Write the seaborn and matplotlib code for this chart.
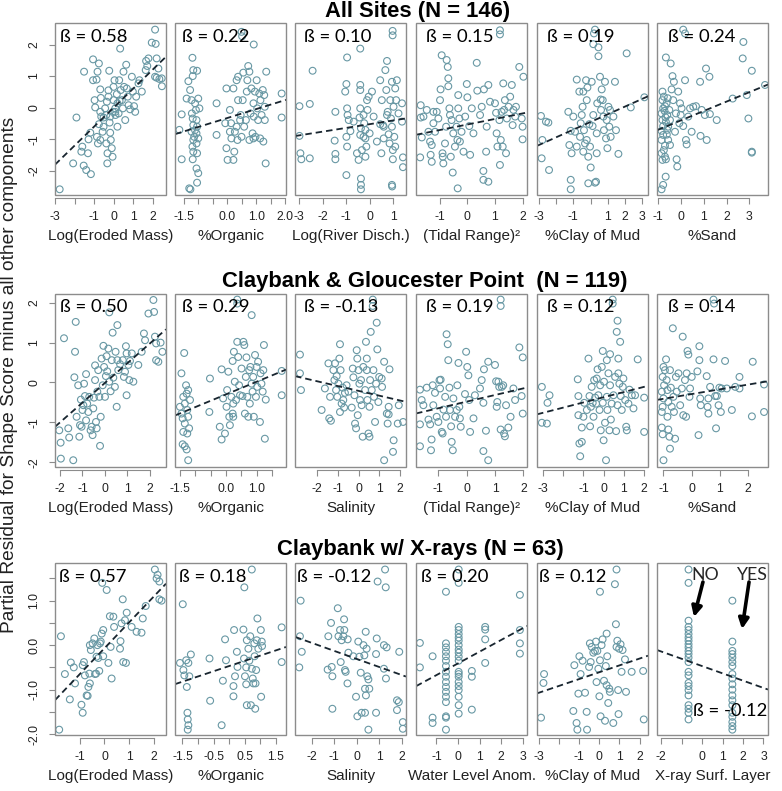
import matplotlib
matplotlib.use("Agg")
import matplotlib.pyplot as plt
from matplotlib.patches import Rectangle
import seaborn as sns

# ---- data (partial residuals) ----
all_mass = [(-2.76,-2.58),(-1.9,-0.31),(-2.07,-1.76),(-1.6,-1.23),(-1.65,-1.39),(-1.51,1.14),(-1.53,-1.83),(-1.4,-1.97),
            (-1.16,-2.1),(-1.31,-1.44),(-1.28,-1.0),(-1.19,-0.79),(-1.05,1.53),(-1.05,0.87),(-0.97,0.24),(-0.94,0.01),
            (-0.87,0.89),(-0.82,1.14),(-0.75,1.4),(-0.85,-0.92),(-0.8,-1.13),(-0.75,-0.52),(-0.68,0.58),(-0.65,0.31),
            (-0.63,-0.28),(-0.68,-0.13),(-0.56,-0.76),(-0.51,-0.6),(-0.43,-0.02),(-0.37,-0.23),(-0.34,0.19),(-0.31,-1.44),
            (-0.32,-1.76),(-0.26,0.55),(-0.26,0.35),(-0.22,1.17),(-0.2,-0.47),(-0.17,-0.79),(-0.14,-1.02),(-0.09,-1.28),
            (-0.05,-1.55),(-0.03,-0.13),(0.0,0.24),(0.0,0.66),(0.05,0.87),(0.09,-0.02),(0.1,-0.23),(0.17,0.43),(0.2,0.14),
            (0.26,-0.18),(0.29,0.87),(0.34,1.87),(0.37,0.56),(0.43,0.24),(0.48,-0.02),(0.51,1.14),(0.54,0.66),(0.6,-0.39),
            (0.65,1.36),(0.68,0.61),(0.73,0.35),(0.77,0.08),(0.85,-0.05),(0.94,0.98),(0.99,0.51),(1.05,0.05),(1.11,-0.13),
            (1.16,0.35),(1.28,0.77),(1.33,0.87),(1.45,0.51),(1.67,1.48),(1.65,1.19),(1.73,1.32),(1.79,1.56),(1.96,2.06),
            (2.13,2.47),(2.16,2.02),(2.21,1.56),(2.21,0.95),(2.3,1.24),(2.35,0.91),(2.47,0.93),(2.48,0.68),(2.13,0.98),
            (0.2,-0.6),(-0.51,-0.31),(-0.17,-0.28),(0.09,-0.13),(0.31,0.21),(-0.68,-1.02),(-0.37,-1.13)]
all_organic = [(-1.57,-0.21),(-1.65,-0.7),(-1.57,-1.63),(-1.4,0.29),(-1.34,0.84),(-1.28,0.56),(-1.2,1.58),(-1.17,1.19),
               (-1.19,1.0),(-1.23,0.24),(-1.22,-0.18),(-1.19,-0.34),(-1.17,-0.55),(-1.23,-0.76),(-1.17,-1.02),(-1.2,-1.23),
               (-1.17,-1.39),(-1.19,-1.63),(-1.31,-2.55),(-1.27,-2.58),(-1.11,0.14),(-1.08,-0.07),(-1.06,-0.39),(-1.04,-0.6),
               (-1.06,-0.81),(-1.06,-1.13),(-1.04,-1.44),(-1.06,-1.92),(-1.0,-2.07),(-1.04,-2.37),(-1.04,1.17),(-1.0,0.29),
               (-0.96,-0.02),(-1.11,-0.71),(-1.14,-0.92),(-1.0,-0.97),(-0.37,0.14),(-0.37,-0.86),(-0.03,0.61),(-0.07,-0.49),
               (-0.03,-1.28),(0.01,-1.65),(0.09,-0.07),(0.13,-0.49),(0.14,-0.97),(0.21,0.61),(0.21,-1.65),(0.24,-1.39),
               (0.26,-0.76),(0.32,0.87),(0.35,-1.02),(0.37,0.24),(0.37,0.98),(0.44,-0.39),(0.46,-0.23),(0.49,-0.92),
               (0.49,2.4),(0.51,2.26),(0.53,0.24),(0.55,1.11),(0.58,-0.6),(0.64,-0.39),(0.67,0.51),(0.69,0.87),(0.72,1.32),
               (0.76,1.14),(0.76,-1.02),(0.8,-0.18),(0.83,0.61),(0.87,-0.81),(0.9,0.14),(0.91,2.0),(0.91,-0.28),(0.95,0.51),
               (0.97,-0.92),(1.01,0.87),(1.03,-0.02),(1.06,-0.39),(1.1,0.45),(1.13,-0.97),(1.14,0.24),(1.18,-0.23),
               (1.22,0.56),(1.24,-1.07),(1.27,0.4),(1.29,-0.39),(1.32,-1.76),(1.34,1.14),(1.29,0.03),(1.87,0.45),
               (1.87,-0.31),(0.9,-0.97),(0.32,-0.6),(0.09,-0.76)]
all_river = [(-2.99,0.05),(-2.99,-0.89),(-2.95,-1.44),(-2.91,-1.63),(-2.55,-1.6),(-2.43,1.17),(-2.55,0.12),(-1.46,-0.13),
             (-1.49,-1.04),(-1.46,-1.46),(-1.46,-1.63),(-1.04,0.51),(-0.99,0.75),(-0.96,1.59),(-0.96,-0.02),(-0.94,-0.23),
             (-0.99,-0.92),(-0.96,-1.23),(-0.99,-2.13),(-0.89,-0.39),(-0.82,-0.74),(-0.54,-1.44),(-0.47,-1.65),(-0.4,1.87),
             (-0.4,0.72),(-0.4,-0.02),(-0.43,-0.31),(-0.4,0.56),(-0.37,-0.65),(-0.4,-0.86),(-0.33,-1.34),(-0.37,-2.24),
             (-0.37,-2.44),(-0.37,-2.58),(-0.26,-0.23),(-0.23,-0.49),(-0.18,-0.7),(-0.18,-0.97),(-0.14,-1.23),(-0.18,-1.55),
             (-0.11,0.24),(-0.09,-0.07),(-0.04,0.35),(0.0,-0.81),(0.1,0.51),(0.17,-0.28),(0.45,0.87),(0.45,-0.52),
             (0.5,-1.44),(0.52,0.24),(0.57,-0.55),(0.6,-0.6),(0.6,-0.97),(0.67,1.19),(0.71,0.56),(0.74,1.48),(0.77,-0.13),
             (0.81,-0.84),(0.85,-1.13),(0.88,0.24),(0.91,-0.34),(0.95,0.82),(0.95,-0.6),(0.98,2.43),(0.98,2.29),
             (0.99,-1.34),(0.99,-1.63),(0.95,-2.44),(0.96,-2.49),(1.02,0.03),(1.05,-0.92),(1.09,0.61),(1.09,-1.23),
             (1.13,0.24),(1.16,0.87),(1.23,-0.18),(1.38,0.14),(1.38,-0.44),(1.42,-1.57),(1.42,-1.88),(0.74,-0.23),
             (0.31,-1.07),(-0.68,-0.44),(-0.26,-0.92)]
all_tidal = [(-1.69,0.08),(-1.69,-0.31),(-1.71,-1.57),(-1.59,-0.28),(-1.65,-0.94),(-1.47,-0.07),(-1.41,-0.76),(-1.35,-1.07),
             (-1.33,-1.49),(-1.29,-1.71),(-1.29,-1.18),(-1.23,-0.13),(-1.23,-0.49),(-1.17,-0.76),(-1.11,-0.13),(-1.05,-0.34),
             (-0.99,0.24),(-0.97,0.58),(-0.93,1.66),(-0.9,-1.44),(-0.89,-1.55),(-0.87,-1.76),(-0.81,-1.13),(-0.77,-0.6),
             (-0.75,1.51),(-0.71,1.29),(-0.69,0.93),(-0.69,0.68),(-0.65,-0.02),(-0.63,-0.23),(-0.6,-1.55),(-0.57,-0.39),
             (-0.53,-2.05),(-0.51,-0.81),(-0.45,-1.23),(-0.39,-0.6),(-0.36,-1.02),(-0.35,-2.55),(-0.33,0.4),(-0.33,-0.02),
             (-0.29,-0.34),(-0.27,-1.07),(-0.21,-0.76),(-0.14,-1.39),(-0.08,-0.28),(-0.02,0.75),(0.0,0.33),(0.07,-0.58),
             (0.1,-1.49),(0.16,-0.02),(0.34,1.42),(0.36,0.54),(0.46,-0.23),(0.52,0.03),(0.58,-2.0),(0.6,0.58),(0.58,-2.28),
             (0.68,-1.39),(0.7,-0.6),(0.76,-2.34),(0.76,0.72),(0.82,0.19),(1.0,0.14),(1.04,-0.16),(1.06,-0.81),(1.09,-1.23),
             (1.16,-0.39),(1.18,2.45),(1.18,2.32),(1.18,-1.81),(1.21,-1.02),(1.24,-0.13),(1.28,-1.23),(1.3,0.77),
             (1.33,-0.07),(1.36,0.24),(1.4,-1.44),(1.43,-0.34),(1.49,0.03),(1.55,0.35),(1.61,0.72),(1.64,-0.55),
             (1.67,-0.07),(1.73,-0.28),(1.76,0.03),(1.88,1.29),(1.97,-0.34),(2.0,-0.6),(2.0,-1.0),(2.03,0.98),(0.22,-0.81)]
all_clay = [(-2.88,-0.26),(-2.84,-1.6),(-2.8,-1.02),(-2.59,-0.44),(-2.45,-0.47),(-2.41,-1.97),(-1.29,-0.13),(-1.23,-1.18),
            (-1.15,-0.73),(-1.1,-1.44),(-1.15,-2.28),(-1.15,-2.58),(-1.0,-0.28),(-0.9,-0.76),(-0.8,0.89),(-0.8,-1.23),
            (-0.65,0.51),(-0.61,-0.92),(-0.57,-0.49),(-0.51,-0.23),(-0.46,0.03),(-0.42,0.51),(-0.38,-0.71),(-0.32,-1.13),
            (-0.26,0.87),(-0.22,0.24),(-0.18,0.64),(-0.13,-1.55),(-0.13,-2.39),(-0.07,-0.52),(-0.03,-1.23),(0.01,-1.89),
            (0.07,0.82),(0.12,-0.58),(0.16,-0.23),(0.2,2.35),(0.26,2.47),(0.16,2.01),(0.26,-2.37),(0.32,-2.34),
            (0.36,-0.81),(0.39,0.14),(0.46,1.91),(0.46,1.63),(0.55,0.98),(0.59,0.26),(0.61,-0.07),(0.65,0.58),(0.71,0.24),
            (0.75,-0.28),(0.78,-0.71),(0.84,0.82),(0.9,-0.97),(0.94,-0.39),(0.98,-1.28),(1.04,0.03),(1.09,-0.6),
            (1.13,-0.07),(1.17,-0.92),(1.33,-0.28),(1.42,0.82),(1.48,-0.71),(1.62,-1.46),(2.1,1.72),(2.34,0.01),
            (3.13,0.33),(-0.22,-1.02),(-0.42,-1.39),(0.36,-1.44)]
all_sand = [(-0.85,-2.58),(-0.78,-2.44),(-0.67,-2.18),(-0.81,-1.65),(-0.7,-1.55),(-0.66,-1.63),(-0.85,-1.44),(-0.75,-1.34),
            (-0.85,-1.02),(-0.78,-0.86),(-0.85,-0.73),(-0.78,-0.58),(-0.81,-0.39),(-0.85,-0.18),(-0.78,-0.02),(-0.81,0.24),
            (-0.75,0.35),(-0.81,0.51),(-0.66,1.59),(-0.63,0.14),(-0.6,-0.23),(-0.56,-0.6),(-0.56,-1.02),(-0.51,-0.07),
            (-0.48,-0.39),(-0.45,1.4),(-0.41,0.58),(-0.37,1.0),(-0.34,0.24),(-0.31,0.82),(-0.26,-0.76),(-0.22,-0.18),
            (-0.19,-1.63),(-0.16,-1.86),(-0.12,0.51),(-0.07,-0.49),(-0.04,0.14),(-0.01,-0.23),(0.03,-0.02),(0.1,2.47),
            (0.18,2.35),(0.1,-0.58),(0.18,0.87),(0.22,-1.02),(0.25,-1.16),(0.32,-0.28),(0.4,-0.02),(0.47,-0.76),
            (0.54,0.03),(0.66,0.05),(0.84,0.82),(0.86,-0.89),(1.05,-0.23),(1.1,1.24),(1.13,-1.02),(1.25,0.98),
            (1.27,-0.2),(1.57,-0.39),(2.27,0.29),(2.71,1.56),(2.74,2.08),(2.89,0.4),(2.96,-0.34),(3.11,1.17),
            (3.11,-1.39),(3.11,-1.42),(3.69,0.72),(0.91,-0.07),(-0.48,-1.18),(-0.72,-0.1),(-0.7,0.05),(-0.66,-0.45),
            (-0.62,-0.85),(-0.7,-1.2),(-0.58,0.3),(-0.68,-0.3),(-0.6,-0.7)]

cgp_mass = [(-2.03,-1.2),(-1.97,-1.51),(-1.96,-1.91),(-1.82,1.11),(-1.63,-1.15),(-1.59,-1.38),(-1.41,-1.95),(-1.36,0.13),
            (-1.33,0.77),(-1.3,1.52),(-1.26,-0.86),(-1.19,-0.07),(-1.14,-1.36),(-1.11,-1.07),(-1.07,-0.43),(-1.04,-1.11),
            (-1.0,-0.69),(-0.96,-0.57),(-0.93,-0.03),(-0.89,-0.34),(-0.84,0.21),(-0.84,-0.95),(-0.79,-0.53),(-0.74,-0.74),
            (-0.7,-0.36),(-0.64,-1.2),(-0.59,-1.11),(-0.55,-1.32),(-0.52,-0.65),(-0.49,-0.38),(-0.44,0.06),(-0.44,0.43),
            (-0.4,-0.99),(-0.37,-1.15),(-0.34,-0.23),(-0.3,0.31),(-0.25,-0.36),(-0.22,-1.59),(-0.19,-0.86),(-0.15,0.6),
            (-0.1,-0.07),(-0.07,0.92),(-0.04,0.39),(0.0,-0.36),(0.04,0.16),(0.07,0.66),(0.1,0.28),(0.15,0.85),(0.19,1.76),
            (0.19,0.02),(0.25,-0.22),(0.3,0.56),(0.34,1.25),(0.37,0.12),(0.44,-0.11),(0.47,0.77),(0.52,-0.61),(0.55,1.44),
            (0.55,0.56),(0.59,0.31),(0.67,0.46),(0.79,0.56),(0.84,0.14),(0.89,0.27),(0.93,0.91),(0.96,-0.32),(0.96,0.73),
            (1.04,0.44),(1.08,0.06),(1.11,0.54),(1.19,0.73),(1.26,0.02),(1.48,0.44),(1.63,0.77),(1.73,1.23),(1.78,1.06),
            (1.93,1.73),(2.15,2.07),(2.18,1.77),(2.22,1.15),(2.27,0.98),(2.27,0.56),(2.37,0.52),(2.47,1.0),(2.55,0.77)]
cgp_organic = [(-1.45,0.23),(-1.36,0.74),(-1.5,-0.61),(-1.45,-0.78),(-1.41,-0.9),(-1.39,-0.36),(-1.34,-1.03),(-1.34,-0.53),
               (-1.39,-1.24),(-1.41,-1.55),(-1.34,-1.6),(-1.28,-1.68),(-1.23,-1.95),(-1.3,-0.07),(-1.28,-0.28),(-1.26,-0.69),
               (-1.23,-0.19),(-1.23,-0.86),(-1.2,-1.15),(-1.17,-0.44),(-1.26,-1.28),(-0.52,0.1),(-0.54,-0.74),(-0.2,-1.11),
               (-0.14,0.33),(-0.14,-1.43),(-0.09,-0.4),(-0.03,-1.28),(0.02,-0.61),(0.04,-0.19),(0.08,0.27),(0.11,-0.86),
               (0.13,-1.07),(0.18,-0.36),(0.22,0.54),(0.22,-0.78),(0.24,-0.53),(0.24,-0.86),(0.26,0.77),(0.29,0.02),
               (0.33,-0.44),(0.37,1.02),(0.37,2.08),(0.37,1.98),(0.4,0.64),(0.43,-0.07),(0.46,-0.32),(0.51,0.35),
               (0.54,-0.34),(0.57,1.02),(0.6,0.94),(0.62,-0.78),(0.65,0.14),(0.67,0.63),(0.7,-0.36),(0.73,-0.86),(0.76,0.31),
               (0.78,-0.53),(0.8,0.39),(0.84,1.69),(0.84,-0.03),(0.87,-0.23),(0.89,0.14),(0.91,-0.86),(0.95,0.69),
               (0.98,-0.36),(1.0,0.39),(1.02,-0.11),(1.05,0.52),(1.11,-0.99),(1.13,0.23),(1.16,-0.03),(1.2,-0.23),
               (1.22,0.31),(1.24,0.94),(1.27,-1.41),(1.3,-0.43),(1.82,0.29),(1.82,-0.32)]
cgp_salinity = [(-2.84,0.7),(-2.84,0.23),(-2.79,-0.19),(-1.79,-0.69),(-1.63,-0.15),(-1.46,0.48),(-1.42,-0.9),(-1.38,-0.36),
                (-1.34,-0.96),(-1.22,0.31),(-1.17,0.06),(-1.14,0.48),(-1.09,-0.19),(-1.06,0.16),(-1.03,-0.36),(-0.98,-0.03),
                (-0.93,0.6),(-0.9,0.96),(-0.9,-0.74),(-0.87,0.31),(-0.82,-0.53),(-0.77,-0.13),(-0.74,-0.44),(-0.7,-0.63),
                (-0.66,-0.26),(-0.58,-0.07),(-0.49,-0.23),(-0.33,-0.63),(-0.28,0.35),(-0.25,0.13),(-0.2,-0.32),(-0.17,-1.03),
                (-0.12,-1.15),(-0.09,0.81),(-0.06,0.6),(-0.04,-0.82),(0.0,0.31),(0.04,-0.03),(0.07,-0.44),(0.12,0.06),
                (0.15,-0.57),(0.2,-1.36),(0.23,0.39),(0.32,-0.19),(0.36,1.02),(0.4,0.6),(0.4,0.31),(0.43,-0.44),(0.48,-1.28),
                (0.53,-1.36),(0.53,-0.61),(0.56,0.06),(0.59,1.27),(0.64,-0.19),(0.69,2.08),(0.69,1.92),(0.72,0.31),
                (0.75,-0.36),(0.8,-0.99),(0.85,-0.03),(0.88,1.5),(0.91,0.83),(0.96,-0.49),(1.0,0.14),(1.24,0.52),(1.5,0.33),
                (1.12,0.1),(1.46,-0.61),(1.46,-0.8),(1.41,-1.03),(1.9,-1.03),(2.16,-0.99),(1.95,-0.57),(1.7,-1.45),
                (1.67,-1.74),(1.24,-1.95),(1.14,-0.11),(1.37,-0.78)]
cgp_tidal = [(-1.65,-0.18),(-1.65,-1.05),(-1.65,-1.6),(-1.59,-0.44),(-1.53,-0.57),(-1.41,-0.13),(-1.35,-0.93),(-1.29,-1.05),
             (-1.26,-1.7),(-1.24,-1.43),(-1.2,-0.07),(-1.18,-0.57),(-1.12,-0.26),(-1.06,-0.86),(-1.0,-0.99),(-0.96,0.06),
             (-0.94,-0.15),(-0.92,0.07),(-0.88,-1.24),(-0.85,-1.28),(-0.82,-0.68),(-0.76,-0.36),(-0.73,-0.86),(-0.71,1.21),
             (-0.67,0.96),(-0.65,0.56),(-0.61,-0.13),(-0.59,-0.69),(-0.55,-1.1),(-0.53,-1.49),(-0.49,-1.7),(-0.47,-0.4),
             (-0.41,-0.86),(-0.35,-0.69),(-0.33,-0.07),(-0.29,0.49),(-0.26,-0.61),(-0.24,-0.9),(-0.21,-1.11),(-0.06,-0.29),
             (-0.02,0.77),(0.02,0.39),(0.06,0.18),(0.09,-0.44),(0.12,-1.24),(0.24,-0.9),(0.29,-0.32),(0.47,-0.15),
             (0.53,0.06),(0.59,-0.51),(0.61,0.33),(0.68,-1.21),(0.59,-1.72),(0.76,0.52),(0.76,-1.95),(1.0,0.44),(1.04,0.03),
             (1.06,-0.61),(1.08,-0.49),(1.12,0.02),(1.15,-0.11),(1.2,2.08),(1.2,1.92),(1.2,-1.18),(1.24,-0.11),(1.29,-0.07),
             (1.32,-1.28),(1.35,-1.35),(1.39,-0.57),(1.47,-1.13),(1.55,-0.86),(1.65,-0.15),(1.71,-0.44),(1.86,0.88),
             (1.94,-0.34),(1.98,0.63),(1.98,-0.78)]
cgp_clay = [(-3.06,-0.11),(-3.06,-1.01),(-2.81,-1.03),(-2.78,-0.51),(-2.68,-0.32),(-1.28,0.08),(-1.25,-0.34),(-1.25,-0.82),
            (-1.2,-1.53),(-1.08,-1.49),(-1.16,-1.85),(-1.08,-1.13),(-1.0,-0.86),(-0.96,-0.51),(-0.83,-0.69),(-0.75,0.6),
            (-0.7,-0.34),(-0.67,-1.1),(-0.63,-0.61),(-0.59,-0.11),(-0.54,-0.51),(-0.5,-0.86),(-0.47,0.06),(-0.42,-0.38),
            (-0.37,-0.53),(-0.34,0.1),(-0.3,0.33),(-0.26,-0.32),(-0.2,-0.69),(-0.17,-0.07),(-0.14,-1.2),(-0.09,0.39),
            (-0.04,0.79),(-0.04,-0.51),(0.0,-1.45),(0.02,0.02),(0.07,-1.01),(0.12,-1.95),(0.16,0.56),(0.16,-0.36),
            (0.19,-0.69),(0.24,0.23),(0.29,-1.2),(0.32,0.71),(0.32,-0.07),(0.36,-0.93),(0.4,-0.53),(0.45,2.08),(0.45,1.98),
            (0.49,-0.32),(0.57,0.14),(0.62,-1.22),(0.65,1.27),(0.69,-0.57),(0.69,1.55),(0.73,0.6),(0.73,0.23),(0.78,-0.03),
            (0.82,1.02),(0.85,-0.34),(0.9,-0.69),(0.95,-0.11),(0.98,0.1),(1.07,-0.44),(1.12,-1.11),(1.15,-1.2),
            (1.23,-0.53),(1.28,-0.18),(1.4,-0.32),(1.48,-0.65),(1.56,-0.32),(1.69,0.58),(2.01,-0.38),(2.01,-1.24)]
cgp_sand = [(-1.0,-1.95),(-1.06,-1.13),(-1.03,-1.3),(-1.06,-0.74),(-1.03,-0.61),(-1.0,-0.4),(-1.06,-0.23),(-0.98,-0.07),
            (-1.03,0.14),(-1.0,0.39),(-0.91,0.58),(-0.95,0.31),(-0.89,0.06),(-0.86,-0.19),(-0.83,-0.49),(-0.86,-0.86),
            (-0.83,-1.18),(-0.79,-1.36),(-0.77,-1.66),(-0.77,0.31),(-0.74,-0.13),(-0.71,-0.61),(-0.67,1.36),(-0.65,-0.36),
            (-0.63,-0.74),(-0.59,-1.41),(-0.56,0.14),(-0.53,-0.23),(-0.47,0.23),(-0.41,-0.57),(-0.35,-0.15),(-0.32,1.15),
            (-0.3,-0.82),(-0.24,0.06),(-0.2,-0.86),(-0.18,0.23),(-0.15,0.79),(-0.12,0.7),(-0.08,-0.36),(-0.06,-0.15),
            (0.0,0.14),(0.2,0.28),(0.24,-1.32),(0.27,0.91),(0.27,0.56),(0.3,-0.4),(0.32,-0.57),(0.53,0.16),(0.56,-0.61),
            (0.59,-0.78),(0.59,-0.4),(0.65,-0.11),(0.77,0.58),(0.77,2.08),(0.79,1.98),(0.83,-0.34),(0.86,-1.15),
            (0.89,-0.34),(0.95,-0.57),(0.98,-0.13),(1.03,-0.74),(1.06,-0.15),(1.18,0.54),(1.24,-0.15),(1.42,-0.69),
            (1.54,-0.11),(1.69,0.14),(1.69,-0.15),(2.13,-0.85),(2.16,0.52),(2.56,-0.05),(2.56,-0.74)]

xr_mass = [(-1.83,-1.9),(-1.76,0.2),(-1.6,-0.65),(-1.4,-1.22),(-1.36,-0.39),(-1.24,-0.5),(-1.19,-0.86),(-0.93,-1.34),
           (-0.88,-1.52),(-0.88,-0.45),(-0.83,-0.38),(-0.79,-0.68),(-0.72,-1.13),(-0.68,-1.14),(-0.65,-0.94),(-0.61,-0.64),
           (-0.59,-0.86),(-0.59,0.0),(-0.55,-0.11),(-0.48,0.04),(-0.41,0.15),(-0.38,-0.65),(-0.34,-0.64),(-0.32,-0.26),
           (-0.28,0.0),(-0.25,-0.29),(-0.21,-0.58),(-0.18,0.04),(-0.15,0.08),(-0.11,0.26),(-0.09,1.4),(-0.05,-0.25),
           (-0.05,0.34),(0.09,1.24),(0.16,-0.4),(0.22,0.65),(0.25,-0.04),(0.29,-0.75),(0.36,0.64),(0.39,0.41),
           (0.63,-0.08),(0.65,0.09),(0.69,0.49),(0.74,1.03),(0.76,-0.38),(0.83,0.56),(0.87,-0.4),(0.9,0.73),(1.1,0.41),
           (1.3,0.3),(1.5,0.28),(1.55,0.6),(1.67,0.88),(2.04,1.7),(2.11,1.5),(2.15,1.58),(2.22,1.43),(2.22,1.03),(2.31,1.0)]
xr_organic = [(-1.58,-0.4),(-1.49,0.92),(-1.47,-0.56),(-1.44,-0.68),(-1.38,-0.34),(-1.36,-0.94),(-1.34,-1.52),(-1.33,-1.67),
              (-1.31,-1.8),(-1.33,-1.9),(-1.31,-0.4),(-1.28,-0.7),(-1.23,-0.21),(-0.63,-0.3),(-0.61,-1.25),(-0.24,-1.8),
              (-0.2,-0.8),(-0.13,0.13),(-0.1,-0.34),(0.14,-1.15),(0.14,-0.92),(0.16,0.34),(0.19,-0.7),(0.25,-0.15),
              (0.27,-0.49),(0.46,0.35),(0.48,-0.3),(0.49,1.3),(0.51,-0.7),(0.55,-0.5),(0.55,-0.88),(0.57,-1.35),(0.57,0.11),
              (0.62,-0.08),(0.65,-0.35),(0.68,0.2),(0.7,-1.35),(0.73,1.7),(0.73,-0.53),(0.76,-0.75),(0.78,-0.86),(0.81,0.04),
              (0.82,-0.25),(0.84,-1.43),(0.85,-0.86),(0.87,-0.56),(0.89,0.11),(0.91,0.6),(0.94,-0.08),(1.02,0.34),
              (1.03,-1.16),(1.05,0.08),(1.06,-0.02),(1.69,0.4),(1.69,-0.38)]
xr_salinity = [(-2.49,1.0),(-2.52,0.2),(-2.44,-0.15),(-2.55,-0.5),(-1.29,-0.55),(-1.26,0.2),(-1.14,0.5),(-1.11,-0.49),
               (-1.08,-0.7),(-1.08,-1.43),(-0.84,0.83),(-0.81,0.2),(-0.74,0.34),(-0.71,-0.38),(-0.67,0.11),(-0.59,0.2),
               (-0.56,0.58),(-0.55,0.34),(-0.52,-0.56),(-0.49,-0.6),(-0.41,-0.86),(-0.4,0.13),(-0.37,-0.17),(-0.15,-0.25),
               (-0.03,-1.16),(0.03,-1.6),(0.07,0.08),(0.12,-0.26),(0.18,-0.62),(0.22,-1.52),(0.3,0.0),(0.34,-0.23),
               (0.37,-1.52),(0.37,-0.98),(0.4,0.3),(0.41,-1.13),(0.44,-0.08),(0.47,-0.7),(0.52,-1.9),(0.52,-0.77),
               (0.56,-0.98),(0.86,-1.52),(0.86,-0.2),(0.89,0.15),(0.93,1.43),(1.21,-0.53),(1.21,0.0),(1.26,1.7),(1.29,1.3),
               (1.33,-0.05),(1.3,-0.75),(1.89,-0.15),(1.79,-1.24),(1.87,-1.28),(1.79,-1.46),(2.05,-1.73),(2.05,-1.88)]
xr_water = [(-1.77,0.05),(-1.77,-0.5),(-1.18,-0.25),(-1.18,-1.63),(-1.18,-1.75),(-0.56,1.2),
            (-0.56,0.04),(-0.56,-0.05),(-0.56,-0.15),(-0.56,-0.25),(-0.56,-0.35),(-0.56,-0.47),(-0.56,-0.6),(-0.56,-0.71),
            (-0.56,-0.83),(-0.56,-0.94),(-0.56,-1.05),(-0.56,-1.16),(-0.56,-1.28),(-0.56,-1.6),(-0.56,-1.63),(-0.56,-1.9),
            (0.03,1.7),(0.03,1.4),(0.03,0.41),(0.03,0.34),(0.03,0.25),(0.03,0.17),(0.03,0.1),(0.03,0.0),(0.03,-0.1),
            (0.03,-0.17),(0.03,-0.26),(0.03,-0.35),(0.03,-0.6),(0.03,-0.65),(0.03,-0.71),(0.03,-0.83),(0.03,-0.92),
            (0.03,-1.01),(0.03,-1.16),(0.03,-1.35),(0.03,-1.54),
            (0.64,-0.58),(0.64,-0.71),(0.64,-1.45),(1.26,0.41),(1.26,0.35),(1.26,0.13),(1.26,-0.4),
            (2.87,1.13),(2.87,0.34),(2.87,0.04),(2.87,-0.19)]
xr_clay = [(-2.88,-1.63),(-2.76,-0.85),(-2.73,-0.65),(-1.28,-1.48),(-1.23,-0.45),(-1.12,-1.75),(-1.08,-1.9),(-1.03,-1.09),
           (-0.98,-0.25),(-0.92,-0.65),(-0.82,-0.35),(-0.7,-1.07),(-0.62,-1.5),(-0.6,-1.9),(-0.5,-0.49),(-0.46,0.04),
           (-0.42,-0.38),(-0.37,-0.04),(-0.29,-0.17),(-0.21,-0.13),(-0.16,0.08),(-0.13,-0.83),(-0.09,-0.13),(-0.04,-0.53),
           (0.01,-1.15),(0.04,1.2),(0.04,-0.34),(0.07,-1.6),(0.12,0.0),(0.17,0.13),(0.24,-0.8),(0.29,-1.7),(0.33,-0.47),
           (0.37,0.26),(0.37,-0.9),(0.4,-0.25),(0.45,-1.3),(0.5,-0.98),(0.53,-1.05),(0.7,-1.75),(0.78,1.37),(0.83,0.47),
           (0.86,1.7),(0.86,-0.04),(0.9,0.1),(0.94,-1.01),(0.96,-1.55),(0.99,-0.08),(1.06,0.02),(1.11,-0.6),(1.16,-0.11),
           (1.28,-0.32),(1.33,-1.05),(1.61,-0.6),(2.18,-0.58),(2.21,-1.67)]
xr_xray = [(-0.66,1.7),(-0.66,1.4),(-0.66,0.55),(-0.66,0.41),(-0.66,0.34),(-0.66,0.25),(-0.66,0.17),(-0.66,0.1),
           (-0.66,0.02),(-0.66,-0.05),(-0.66,-0.13),(-0.66,-0.2),(-0.66,-0.28),(-0.66,-0.38),(-0.66,-0.6),(-0.66,-0.68),
           (-0.66,-0.85),(-0.66,-0.92),(-0.66,-1.01),(-0.66,-1.13),(-0.66,-1.35),(-0.66,-1.43),(-0.66,-1.52),(-0.66,-1.67),
           (1.48,1.0),(1.48,0.08),(1.48,-0.13),(1.48,-0.2),(1.48,-0.28),(1.48,-0.38),(1.48,-0.47),(1.48,-0.65),
           (1.48,-0.75),(1.48,-0.88),(1.48,-1.0),(1.48,-1.13),(1.48,-1.24),(1.48,-1.35),(1.48,-1.52),(1.48,-1.61),
           (1.48,-1.73),(1.48,-1.82),(1.48,-1.9)]

row_titles = ["All Sites (N = 146)", "Claybank & Gloucester Point  (N = 119)", "Claybank w/ X-rays (N = 63)"]
row_xlabels = [["Log(Eroded Mass)", "%Organic", "Log(River Disch.)", "(Tidal Range)²", "%Clay of Mud", "%Sand"],
               ["Log(Eroded Mass)", "%Organic", "Salinity", "(Tidal Range)²", "%Clay of Mud", "%Sand"],
               ["Log(Eroded Mass)", "%Organic", "Salinity", "Water Level Anom.", "%Clay of Mud", "X-ray Surf. Layer"]]
row_betas = [["0.58", "0.22", "0.10", "0.15", "0.19", "0.24"],
             ["0.50", "0.29", "-0.13", "0.19", "0.12", "0.14"],
             ["0.57", "0.18", "-0.12", "0.20", "0.12", "-0.12"]]
# dashed component lines (slope, intercept)
row_fits = [[(0.60, 0.00), (0.284, -0.325), (0.118, -0.52), (0.175, -0.53), (0.243, -0.45), (0.297, -0.40)],
            [(0.496, -0.01), (0.318, -0.30), (-0.12, -0.21), (0.166, -0.48), (0.13, -0.37), (0.119, -0.29)],
            [(0.583, -0.07), (0.234, -0.47), (-0.181, -0.31), (0.263, -0.41), (0.154, -0.61), (-0.164, -0.47)]]
row_data = [[all_mass, all_organic, all_river, all_tidal, all_clay, all_sand],
            [cgp_mass, cgp_organic, cgp_salinity, cgp_tidal, cgp_clay, cgp_sand],
            [xr_mass, xr_organic, xr_salinity, xr_water, xr_clay, xr_xray]]

# ---- layout (pixels of the 782x791 canvas) ----
W, H = 782, 791
col_left = [55, 175, 295, 416, 537, 657]
pan_w = 111
row_top = [23, 294, 563.3]
pan_h = [172, 173, 171.7]
title_xy = [(418, 12), (424.7, 281.7), (420.7, 550)]
beta_dx = [[5, 6.7, 9, 9.7, 10, 11], [5, 6.7, 9, 9.7, 10.3, 11.3], [4, 4, 2, 4.7, 2, None]]

xlims = [[(-3.0, 2.69), (-1.80, 2.02), (-3.18, 1.55), (-1.86, 2.16), (-3.11, 3.34), (-1.05, 3.82)],
         [(-2.22, 2.71), (-1.66, 1.96), (-3.08, 2.3), (-1.79, 2.13), (-3.3, 2.2), (-1.23, 2.7)],
         [(-2.0, 2.49), (-1.74, 1.83), (-2.74, 2.19), (-1.95, 3.2), (-3.08, 2.42), (-2.2, 3.22)]]
ylims = [(-2.76, 2.68), (-2.12, 2.22), (-2.02, 1.84)]

xticks = [[([-3, -2, -1, 0, 1, 2], ["-3", "", "-1", "0", "1", "2"]),
           ([-1.5, -1, -0.5, 0, 0.5, 1, 1.5, 2], ["-1.5", "", "", "0.0", "", "1.0", "", "2.0"]),
           ([-3, -2, -1, 0, 1], ["-3", "-2", "-1", "0", "1"]),
           ([-1, 0, 1, 2], ["-1", "0", "1", "2"]),
           ([-3, -2, -1, 0, 1, 2, 3], ["-3", "", "-1", "", "1", "2", "3"]),
           ([-1, 0, 1, 2, 3], ["-1", "0", "1", "2", "3"])],
          [([-2, -1, 0, 1, 2], ["-2", "-1", "0", "1", "2"]),
           ([-1.5, -1, -0.5, 0, 0.5, 1, 1.5], ["-1.5", "", "", "0.0", "", "1.0", ""]),
           ([-2, -1, 0, 1, 2], ["-2", "-1", "0", "1", "2"]),
           ([-1, 0, 1, 2], ["-1", "0", "1", "2"]),
           ([-3, -2, -1, 0, 1, 2], ["-3", "", "-1", "0", "1", "2"]),
           ([-1, 0, 1, 2], ["-1", "0", "1", "2"])],
          [([-1, 0, 1, 2], ["-1", "0", "1", "2"]),
           ([-1.5, -1, -0.5, 0, 0.5, 1, 1.5], ["-1.5", "", "-0.5", "", "0.5", "", "1.5"]),
           ([-2, -1, 0, 1, 2], ["-2", "-1", "0", "1", "2"]),
           ([-1, 0, 1, 2, 3], ["-1", "0", "1", "2", "3"]),
           ([-3, -2, -1, 0, 1, 2], ["-3", "", "-1", "0", "1", "2"]),
           ([-2, -1, 0, 1, 2, 3], ["-2", "", "0", "1", "2", "3"])]]
yticks = [([-2, -1, 0, 1, 2], ["-2", "-1", "0", "1", "2"]),
          ([-2, -1, 0, 1, 2], ["-2", "-1", "0", "1", "2"]),
          ([-2, -1.5, -1, -0.5, 0, 0.5, 1, 1.5], ["-2.0", "", "-1.0", "", "0.0", "", "1.0", ""])]

PT = "#6898a4"
LINE = "#18252f"
BOX = "#8c8c8c"
TXT = "#222222"

sns.set_style("white")
plt.rcParams["font.family"] = ["Liberation Sans", "DejaVu Sans"]
plt.rcParams["axes.unicode_minus"] = False
BETA_FONT = ["Lato", "DejaVu Sans"]

fig = plt.figure(figsize=(W / 100, H / 100), dpi=100)

for r in range(3):
    h = pan_h[r]
    for c in range(6):
        l, t = col_left[c], row_top[r]
        ax = fig.add_axes([l / W, 1 - (t + h) / H, pan_w / W, h / H])
        pts = row_data[r][c]
        xs = [p[0] for p in pts]
        ys = [p[1] for p in pts]
        sns.scatterplot(x=xs, y=ys, ax=ax, s=24, facecolor="none", edgecolor=PT, linewidth=0.8, zorder=2)

        x0, x1 = xlims[r][c]
        slope, icpt = row_fits[r][c]
        sns.lineplot(x=[x0, x1], y=[icpt + slope * x0, icpt + slope * x1], ax=ax, color=LINE,
                     linewidth=1.3, linestyle=(0, (3.6, 2.2)), zorder=3)

        ax.set_xlim(x0, x1)
        ax.set_ylim(*ylims[r])

        for s in ["top", "right", "left"]:
            ax.spines[s].set_visible(False)
        ax.add_patch(Rectangle((0, 0), 1, 1, transform=ax.transAxes, fill=False, ec=BOX, lw=1.0,
                               clip_on=False, zorder=5))
        tk, tl = xticks[r][c]
        ax.spines["bottom"].set_position(("outward", 2))
        ax.spines["bottom"].set_bounds(tk[0], tk[-1])
        ax.spines["bottom"].set_color(BOX)
        ax.spines["bottom"].set_linewidth(0.8)
        ax.set_xticks(tk)
        ax.set_xticklabels(tl)
        ax.tick_params(axis="x", direction="out", length=4, width=0.8, color=BOX, labelsize=8.8,
                       labelcolor=TXT, pad=5.5, bottom=True)
        if c == 0:
            yk, yl = yticks[r]
            ax.set_yticks(yk)
            ax.set_yticklabels(yl, rotation=90, va="center")
            ax.tick_params(axis="y", direction="out", length=4, width=0.8, color=BOX, labelsize=8.8,
                           labelcolor=TXT, pad=6.5, left=True)
        else:
            ax.set_yticks([])
        ax.set_ylabel("")
        ax.set_xlabel(row_xlabels[r][c], fontsize=11, color=TXT, labelpad=4.5)
        ax.grid(False)

        if beta_dx[r][c] is not None:
            ax.text(beta_dx[r][c] / pan_w, 1 - 18.5 / h, "ß = " + row_betas[r][c], transform=ax.transAxes,
                    fontfamily=BETA_FONT, fontsize=13.3, color="black", ha="left", va="baseline", zorder=6)
        else:
            ax.text(1 - 1.0 / pan_w, 19 / h, "ß = " + row_betas[r][c], transform=ax.transAxes,
                    fontfamily=BETA_FONT, fontsize=13.3, color="black", ha="right", va="baseline", zorder=6)
            ax.text(0.432, 0.903, "NO", transform=ax.transAxes, fontfamily=BETA_FONT, fontsize=12.8,
                    ha="center", va="baseline", zorder=6)
            ax.text(0.847, 0.903, "YES", transform=ax.transAxes, fontfamily=BETA_FONT, fontsize=12.8,
                    ha="center", va="baseline", zorder=6)
            arrow = dict(arrowstyle="-|>", lw=2.6, color="black", mutation_scale=15, shrinkA=0, shrinkB=0)
            ax.annotate("", xy=(0.333, 0.687), xytext=(0.414, 0.891), xycoords="axes fraction",
                        textcoords="axes fraction", arrowprops=arrow, zorder=6)
            ax.annotate("", xy=(0.766, 0.617), xytext=(0.829, 0.891), xycoords="axes fraction",
                        textcoords="axes fraction", arrowprops=arrow, zorder=6)

    tx, ty = title_xy[r]
    fig.text(tx / W, 1 - ty / H, row_titles[r], ha="center", va="center", fontsize=15.8,
             fontweight="bold", color="black")

fig.text(10 / W, 1 - 375 / H, "Partial Residual for Shape Score minus all other components", rotation=90,
         ha="center", va="center", fontsize=13.8, color=TXT)

fig.savefig("out.png", dpi=100)
